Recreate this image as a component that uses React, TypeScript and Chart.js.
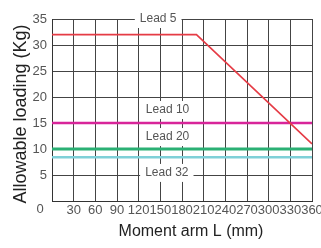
import React, { useEffect, useRef } from "react";
import { Chart, registerables } from "chart.js";

Chart.register(...registerables);

const xTicks = [0, 30, 60, 90, 120, 150, 180, 210, 240, 270, 300, 330, 360];
const yTicks = [0, 5, 10, 15, 20, 25, 30, 35];

const lead5X = [0, 200, 360];
const lead5Y = [32, 32, 11];
const lead10X = [0, 360];
const lead10Y = [15, 15];
const lead20X = [0, 360];
const lead20Y = [10, 10];
const lead32X = [0, 360];
const lead32Y = [8.4, 8.4];

const seriesNames = ["Lead 5", "Lead 10", "Lead 20", "Lead 32"];
// label anchor positions in data units
const labelX = [147, 160, 160, 159];
const labelY = [35, 17.5, 12.3, 5.4];

const xTitle = "Moment arm L (mm)";
const yTitle = "Allowable loading (Kg)";

const toPts = (xs: number[], ys: number[]) => xs.map((x, i) => ({ x, y: ys[i] }));

const annotPlugin = {
  id: "annot",
  beforeDatasetsDraw(chart: any) {
    const ctx = chart.ctx;
    const xs = chart.scales.x;
    const ys = chart.scales.y;
    ctx.save();
    ctx.font = "12px 'Liberation Sans', Arial, sans-serif";
    ctx.textAlign = "center";
    ctx.textBaseline = "middle";
    seriesNames.forEach((name, i) => {
      const px = xs.getPixelForValue(labelX[i]);
      const py = ys.getPixelForValue(labelY[i]);
      const w = ctx.measureText(name).width + 10;
      ctx.fillStyle = "#ffffff";
      ctx.fillRect(px - w / 2, py - 9, w, 18);
      ctx.fillStyle = "#555555";
      ctx.fillText(name, px, py);
    });
    ctx.restore();
  },
  afterDraw(chart: any) {
    const ctx = chart.ctx;
    const area = chart.chartArea;
    ctx.save();
    ctx.fillStyle = "#555555";
    ctx.font = "13px 'Liberation Sans', Arial, sans-serif";
    ctx.textAlign = "center";
    ctx.textBaseline = "middle";
    ctx.fillText(String(yTicks[0]), 40, 209);
    ctx.fillStyle = "#222222";
    ctx.font = "16px 'Liberation Sans', Arial, sans-serif";
    ctx.fillText(xTitle, 191, 232);
    ctx.translate(21, (area.top + area.bottom) / 2 + 4);
    ctx.rotate(-Math.PI / 2);
    ctx.font = "18px 'Liberation Sans', Arial, sans-serif";
    ctx.fillText(yTitle, 0, 0);
    ctx.restore();
  },
};

export default function App() {
  const ref = useRef<HTMLCanvasElement | null>(null);
  useEffect(() => {
    if (!ref.current) return;
    const chart = new Chart(ref.current, {
      type: "line",
      data: {
        datasets: [
          { label: seriesNames[0], data: toPts(lead5X, lead5Y), borderColor: "#e53b45", borderWidth: 1.6, pointRadius: 0, tension: 0 },
          { label: seriesNames[1], data: toPts(lead10X, lead10Y), borderColor: "#d8259a", borderWidth: 2.5, pointRadius: 0 },
          { label: seriesNames[2], data: toPts(lead20X, lead20Y), borderColor: "#2bb074", borderWidth: 3.2, pointRadius: 0 },
          { label: seriesNames[3], data: toPts(lead32X, lead32Y), borderColor: "#7fd0d8", borderWidth: 2.5, pointRadius: 0 },
        ],
      },
      options: {
        animation: false,
        responsive: false,
        maintainAspectRatio: false,
        layout: { padding: { top: 19, right: 9, left: 0, bottom: 0 } },
        plugins: { legend: { display: false }, tooltip: { enabled: false } },
        scales: {
          x: {
            type: "linear",
            min: 0,
            max: 360,
            afterBuildTicks: (s: any) => { s.ticks = xTicks.map((v) => ({ value: v })); },
            afterFit: (s: any) => { s.height = 47; s.paddingLeft = 0; s.paddingRight = 0; },
            ticks: {
              autoSkip: false,
              maxRotation: 0,
              padding: 2,
              color: "#555555",
              font: { size: 13, family: "'Liberation Sans', Arial, sans-serif" },
              callback: (v: any) => (v === 0 ? "" : String(v)),
            },
            grid: { color: "#444444", lineWidth: 1, drawTicks: false },
            border: { display: true, color: "#333333", width: 1 },
          },
          y: {
            min: 0,
            max: 35,
            afterBuildTicks: (s: any) => { s.ticks = yTicks.map((v) => ({ value: v })); },
            afterFit: (s: any) => { s.width = 52; s.paddingTop = 0; s.paddingBottom = 0; },
            ticks: {
              padding: 5,
              color: "#555555",
              font: { size: 13, family: "'Liberation Sans', Arial, sans-serif" },
              callback: (v: any) => (v === 0 ? "" : String(v)),
            },
            grid: { color: "#444444", lineWidth: 1, drawTicks: false },
            border: { display: true, color: "#333333", width: 1 },
          },
        },
      },
      plugins: [annotPlugin],
    });
    return () => chart.destroy();
  }, []);
  return (
    <div style={{ position: "fixed", left: 0, top: 0, width: 321, height: 248, background: "#fff" }}>
      <canvas ref={ref} width={321} height={248} style={{ display: "block", width: 321, height: 248 }} />
    </div>
  );
}
